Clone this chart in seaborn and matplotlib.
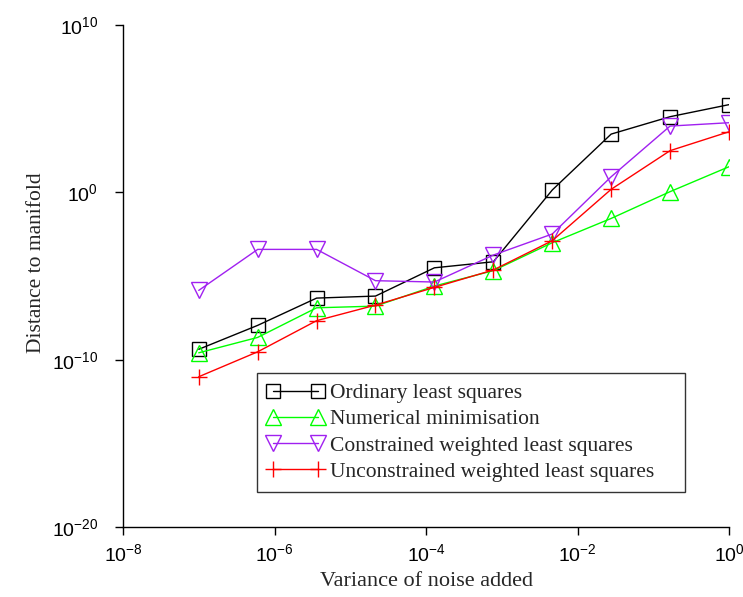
import numpy as np
import pandas as pd
import matplotlib
matplotlib.use("Agg")
import matplotlib.pyplot as plt
import seaborn as sns

# Noise variances used in the experiment
noise_variance = [1e-7, 10**-6.222, 10**-5.444, 10**-4.667, 10**-3.889,
                  10**-3.111, 10**-2.333, 10**-1.556, 10**-0.778, 1e0]

# log10 of the mean distance to the manifold for each method
ols_log = [-9.38, -7.95, -6.32, -6.20, -4.51, -4.15, 0.14, 3.48, 4.52, 5.24]
numerical_log = [-9.59, -8.67, -6.90, -6.80, -5.60, -4.68, -3.01, -1.56, 0.04, 1.53]
cwls_log = [-5.86, -3.41, -3.41, -5.28, -5.36, -3.75, -2.49, 0.93, 3.96, 4.16]
uwls_log = [-11.02, -9.53, -7.67, -6.74, -5.68, -4.64, -2.89, 0.18, 2.49, 3.62]

series_names = ["Ordinary least squares", "Numerical minimisation",
                "Constrained weighted least squares",
                "Unconstrained weighted least squares"]
series_values = [ols_log, numerical_log, cwls_log, uwls_log]
series_colors = ["#000000", "#00ff00", "#a020f0", "#ff0000"]
series_markers = ["s", "^", "v", "+"]
series_msizes = [9.5, 11, 11, 12]

xtick_values = [1e-8, 1e-6, 1e-4, 1e-2, 1e0]
ytick_values = [1e-20, 1e-10, 1e0, 1e10]

sns.set_theme(style="ticks")
plt.rcParams["font.family"] = ["Liberation Serif", "DejaVu Serif"]
plt.rcParams["mathtext.fontset"] = "custom"
plt.rcParams["mathtext.rm"] = "Liberation Sans"
plt.rcParams["mathtext.it"] = "Liberation Sans:italic"
plt.rcParams["mathtext.bf"] = "Liberation Sans:bold"

fig = plt.figure(figsize=(7.43, 5.97), dpi=100)
ax = fig.add_axes([123 / 743, 1 - 527 / 597, 606 / 743, 502 / 597])
ax.set_xscale("log")
ax.set_yscale("log")

for name, vals, col, mk, ms in zip(series_names, series_values, series_colors,
                                   series_markers, series_msizes):
    df = pd.DataFrame({"x": noise_variance, "y": np.power(10.0, vals)})
    sns.lineplot(data=df, x="x", y="y", ax=ax, color=col, marker=mk,
                 markersize=ms, markerfacecolor="none", markeredgecolor=col,
                 markeredgewidth=1.0, linewidth=1.0, estimator=None,
                 sort=False, label=name)

ax.set_xlim(1e-8, 1e0)
ax.set_ylim(1e-20, 1e10)
ax.set_xticks(xtick_values)
ax.set_yticks(ytick_values)
ax.minorticks_off()
ax.tick_params(axis="both", which="major", length=6, width=1,
               direction="out", labelsize=14, colors="black")
ax.tick_params(axis="y", pad=12)
ax.tick_params(axis="x", pad=6)
for lab in ax.get_xticklabels() + ax.get_yticklabels():
    lab.set_family(["Liberation Sans", "DejaVu Sans"])

sns.despine(ax=ax)
for sp in ("left", "bottom"):
    ax.spines[sp].set_linewidth(1.0)
    ax.spines[sp].set_color("black")

ax.set_xlabel("Variance of noise added", fontsize=16)
ax.set_ylabel("Distance to manifold", fontsize=15.5)
ax.xaxis.set_label_coords(0.5, -0.089)
ax.yaxis.set_label_coords(-0.127, 0.527)

leg = ax.legend(loc="upper left", bbox_to_anchor=(0.2216, 0.3062, 0.706, 0.0),
                mode="expand", numpoints=2, handlelength=2.68,
                handletextpad=0.26, fontsize=15.5, frameon=True,
                fancybox=False, borderpad=0.45, labelspacing=0.29,
                borderaxespad=0)
leg.get_frame().set_edgecolor("black")
leg.get_frame().set_linewidth(1.0)

fig.savefig("out.png", dpi=100)
